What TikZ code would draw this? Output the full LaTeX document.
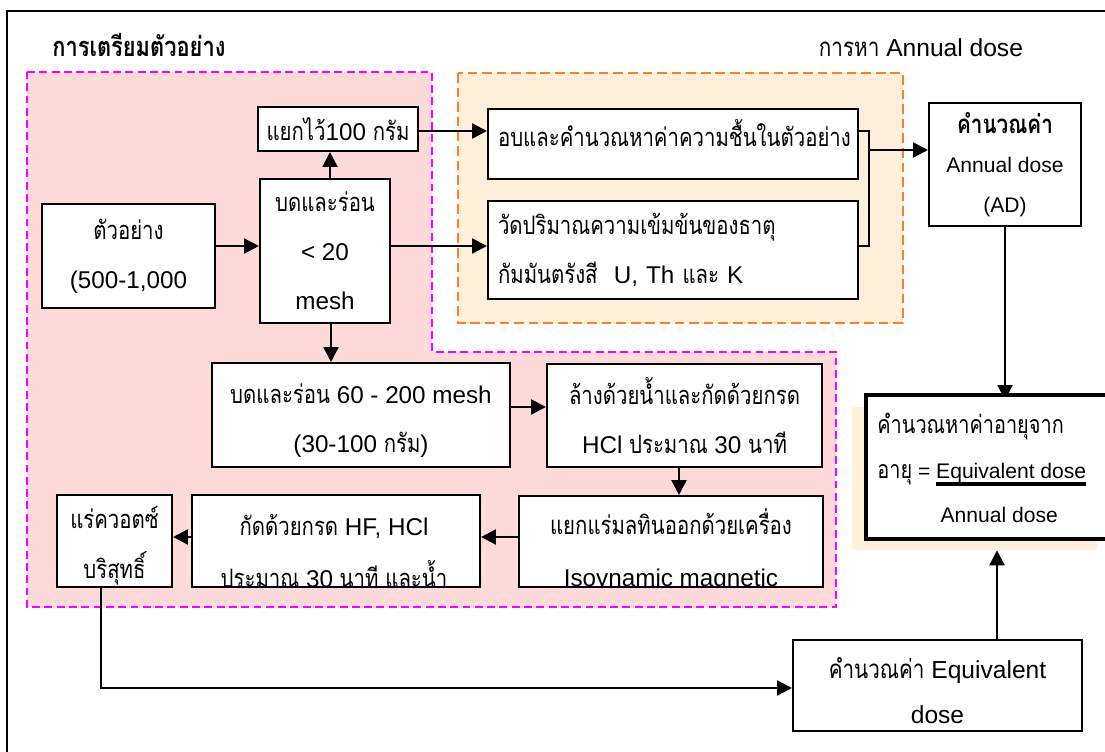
\documentclass[tikz,border=0pt]{standalone}
\usepackage{fontspec}
\setmainfont{Liberation Sans}
\newfontfamily\thai[Script=Thai,Scale=1.05,FakeStretch=0.8]{Loma}
\usetikzlibrary{arrows.meta,positioning,backgrounds}
\definecolor{pinkbg}{HTML}{FFDADA}
\definecolor{peach}{HTML}{FFEFDB}
\definecolor{mag}{HTML}{FF00FF}
\definecolor{orng}{HTML}{FF7F27}
\newcommand{\boxfont}{\fontsize{13.8}{28}\selectfont}
\newcommand{\dosefont}{\fontsize{12}{22.5}\selectfont}
\newcommand{\agethai}{\fontsize{13.5}{25.5}\selectfont\thai}
\newsavebox{\barbox}
\newcommand{\fracbar}[1]{\sbox{\barbox}{#1}\rlap{\rule[-4.6pt]{\wd\barbox}{2.2pt}}\usebox{\barbox}}
\tikzset{
  box/.style={draw,line width=1.2pt,fill=white,inner sep=0pt,align=center,font=\boxfont},
  lbox/.style={box,align=left,inner xsep=0.2cm,text width=#1},
  flow/.style={line width=1.4pt,-{Triangle[length=8.5pt,width=8.5pt]}},
  wire/.style={line width=1.4pt},
  region/.style={line width=1.2pt,dash pattern=on 4.5pt off 2.5pt},
  title/.style={font=\fontsize{14}{16}\selectfont},
}
\begin{document}
\begin{tikzpicture}[x=0.02cm,y=-0.02cm]
\useasboundingbox (0,0) rectangle (1105,751);
\clip (0,0) rectangle (1105,751);
\draw[line width=1.2pt] (7,11) rectangle (1130,780);
% titles
\node[title,font=\fontsize{14.8}{17}\selectfont,anchor=west,inner sep=0pt] (prep) at (52,45) {\thai\bfseries การเตรียมตัวอย่าง};
\node[title] (find) at (921,48) {{\thai การหา} Annual dose};
% sample preparation
\node[box,minimum width=3.46cm,minimum height=2.08cm] (sample) at (128.5,256) {{\thai ตัวอย่าง}\\(500-1,000};
\node[box,minimum width=2.6cm,minimum height=2.88cm] (mesh20) at (325,251) {{\thai บดและร่อน}\\< 20\\mesh};
\node[box,minimum width=3.2cm,minimum height=0.88cm] (keep100) at (338,129) {{\thai แยกไว้}100 {\thai กรัม}};
\node[box,minimum width=5.96cm,minimum height=2.08cm] (fine) at (361,415) {\rule{0pt}{18pt}{\thai บดและร่อน} 60 - 200 mesh\\(30-100 {\thai กรัม})};
\node[box,minimum width=5.5cm,minimum height=2.06cm] (wash) at (684.5,415.5) {{\thai ล้างด้วยน้ำและกัดด้วยกรด}\\HCl {\thai ประมาณ} 30 {\thai นาที}};
\node[box,minimum width=6.08cm,minimum height=1.82cm] (iso) at (671,541.5) {};
\node[box,minimum width=5.76cm,minimum height=1.84cm] (acid) at (336,541) {};
\node[box,minimum width=2.3cm,minimum height=1.84cm] (quartz) at (114.5,541) {\rule{0pt}{18pt}{\thai แร่ควอตซ์}\\{\thai บริสุทธิ์}};
\begin{scope}
\clip ([yshift=0.7pt]iso.south west) rectangle (iso.north east);
\node[font=\fontsize{13.8}{30}\selectfont,align=center] (iso-t) at (671,550) {{\thai แยกแร่มลทินออกด้วยเครื่อง}\\Isoynamic magnetic};
\end{scope}
\begin{scope}
\clip ([yshift=0.7pt]acid.south west) rectangle (acid.north east);
\node[font=\fontsize{13.8}{30}\selectfont,align=center] (acid-t) at (334,551) {{\thai กัดด้วยกรด} HF, HCl\\{\thai ประมาณ} 30 {\thai นาที และน้ำ}};
\end{scope}
% annual dose
\node[lbox=7.0cm,minimum height=1.4cm,text depth=12pt] (dry) at (673,144) {\thai อบและคำนวณหาค่าความชื้นในตัวอย่าง};
\node[lbox=7.0cm,minimum height=1.96cm] (gamma) at (673,250) {{\thai วัดปริมาณความเข้มข้นของธาตุ}\\{\thai กัมมันตรังสี}\ \ U, Th {\thai และ} K};
\node[box,font=\dosefont,minimum width=3.04cm,minimum height=2.46cm] (ad) at (1005,164.5) {{\fontsize{14}{16}\selectfont\thai\bfseries คำนวณค่า}\\Annual dose\\(AD)};
\node[box,line width=2.4pt,minimum width=5.6cm,minimum height=2.88cm] (age) at (1006,467) {};
\node[font=\fontsize{12}{25.5}\selectfont,align=left,anchor=west,inner sep=0pt] (age-t) at (877,468) {{\agethai คำนวณหาค่าอายุจาก}\\{\agethai อายุ} = \fracbar{Equivalent dose}\\\hspace*{36pt}Annual dose};
\node[box,font=\fontsize{14}{25.5}\selectfont,minimum width=5.78cm,minimum height=1.82cm] (eqd) at (937.5,685.5) {\rule{0pt}{18pt}{\thai คำนวณค่า} Equivalent\\dose};
% connectors
\draw[flow] (sample.east |- 0,246) -- (mesh20.west |- 0,246);
\draw[flow] (mesh20.north -| 330,0) -- (keep100.south -| 330,0);
\draw[flow] (mesh20.south -| 331,0) -- (fine.north -| 331,0);
\draw[flow] (keep100.east |- 0,131) -- (dry.west |- 0,131);
\draw[flow] (mesh20.east |- 0,246) -- (gamma.west |- 0,246);
\coordinate (join) at (869,150);
\draw[wire] (dry.east |- 0,131) -| (join) |- (gamma.east |- 0,246);
\draw[flow] (join) -- (ad.west |- join);
\draw[flow] (fine.east |- 0,407) -- (wash.west |- 0,407);
\draw[flow] (wash.south -| 679,0) -- (iso.north -| 679,0);
\draw[flow] (iso.west |- 0,537) -- (acid.east |- 0,537);
\draw[flow] (acid.west |- 0,537) -- (quartz.east |- 0,537);
\draw[flow] (quartz.south -| 101,0) |- (eqd.west |- 0,688);
\begin{scope}[on background layer]
\filldraw[region,fill=pinkbg,draw=mag] (27,72) -- (432,72) -- (432,352) -- (836,352) -- (836,607) -- (27,607) -- cycle;
\filldraw[region,fill=peach,draw=orng,dash pattern=on 5.5pt off 2.8pt] (458,73) rectangle (903,323);
\node[fill=peach,inner sep=0pt,minimum width=4.9cm,minimum height=2.86cm] (ageshade) at (974.5,478.5) {};
\draw[flow,shorten >=-4pt] (ad.south) -- (ad.south |- age.north);
\end{scope}
\draw[flow] (eqd.north -| 997,0) -- (ageshade.south -| 997,0);
\end{tikzpicture}
\end{document}
